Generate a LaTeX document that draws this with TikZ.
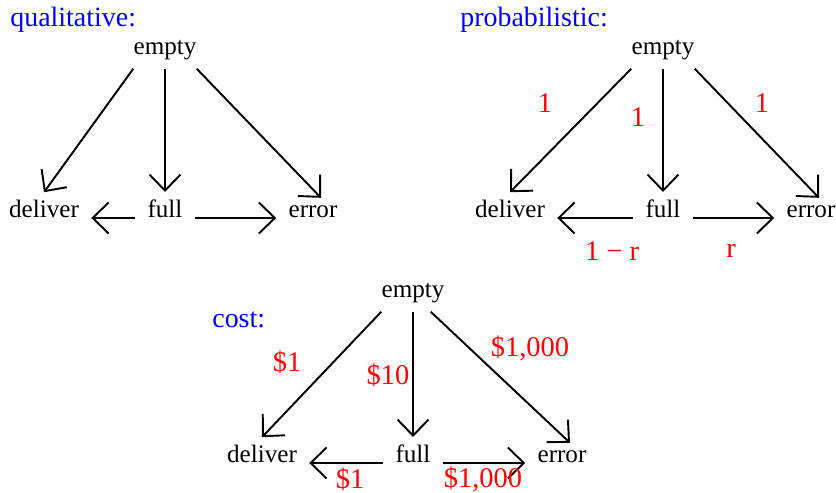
\documentclass[tikz,border=0pt]{standalone}
\usepackage{fontspec}
\setmainfont{Liberation Serif}
\usetikzlibrary{arrows.meta}
\definecolor{TitleBlue}{RGB}{0,0,255}
\definecolor{LabelRed}{RGB}{255,0,0}
\tikzset{
  state/.style={font=\fontsize{14.3}{16}\selectfont,anchor=base,
    inner xsep=0.24cm,inner ysep=0.16cm},
  topstate/.style={state,inner xsep=0pt},
  title/.style={font=\fontsize{15.9}{18}\selectfont,TitleBlue,
    anchor=base west,inner sep=0pt},
  weight/.style={font=\fontsize{16.2}{18}\selectfont,LabelRed,inner sep=0pt},
  link/.style={-{Straight Barb[length=0.32cm,width=0.62cm]},line width=1.1pt}
}

\begin{document}
\begin{tikzpicture}[x=0.02cm,y=-0.02cm]
  \useasboundingbox (0,0) rectangle (836,493);
  % qualitative
  \node[title] (tQ) at (10,27) {qualitative:};
  \node[topstate] (emptyQ) at (165,55) {empty};
  \node[state] (deliverQ) at (44,218) {deliver};
  \node[state] (fullQ) at (165,218) {full};
  \node[state] (errorQ) at (313,218) {error};
  \draw[link] (emptyQ.south west) -- (deliverQ.north);
  \draw[link] (emptyQ.south) -- (fullQ.north);
  \draw[link] (emptyQ.south east) -- ([xshift=0.16cm]errorQ.north);
  \draw[link] (fullQ.base west) -- (deliverQ.base east);
  \draw[link] (fullQ.base east) -- (errorQ.base west);
  % probabilistic
  \node[title] (tP) at (460,27) {probabilistic:};
  \node[topstate] (emptyP) at (663,55) {empty};
  \node[state] (deliverP) at (510,218) {deliver};
  \node[state] (fullP) at (663,218) {full};
  \node[state] (errorP) at (811,218) {error};
  \draw[link] (emptyP.south west) -- (deliverP.north);
  \draw[link] (emptyP.south) -- (fullP.north);
  \draw[link] (emptyP.south east) -- ([xshift=0.16cm]errorP.north);
  \draw[link] (fullP.base west) -- (deliverP.base east);
  \draw[link] (fullP.base east) -- (errorP.base west);
  \node[weight] (pD) at (545,103) {1};
  \node[weight] (pF) at (638,117) {1};
  \node[weight] (pE) at (762,103) {1};
  \node[weight] (pFD) at (612,251) {1 − r};
  \node[weight] (pFE) at (731,251) {r};
  % cost
  \node[title] (tC) at (212,328) {cost:};
  \node[topstate] (emptyC) at (413,298) {empty};
  \node[state] (deliverC) at (262,463) {deliver};
  \node[state] (fullC) at (413,463) {full};
  \node[state] (errorC) at (562,463) {error};
  \draw[link] (emptyC.south west) -- (deliverC.north);
  \draw[link] (emptyC.south) -- (fullC.north);
  \draw[link] ([xshift=-0.28cm]emptyC.south east) -- ([xshift=0.16cm]errorC.north);
  \draw[link] (fullC.base west) -- (deliverC.base east);
  \draw[link] (fullC.base east) -- (errorC.base west);
  \node[weight] (cD) at (287,362) {\$1};
  \node[weight] (cF) at (388,375) {\$10};
  \node[weight] (cE) at (530,348) {\$1,000};
  \node[weight] (cFD) at (350,479) {\$1};
  \node[weight] (cFE) at (483,479) {\$1,000};
\end{tikzpicture}
\end{document}
